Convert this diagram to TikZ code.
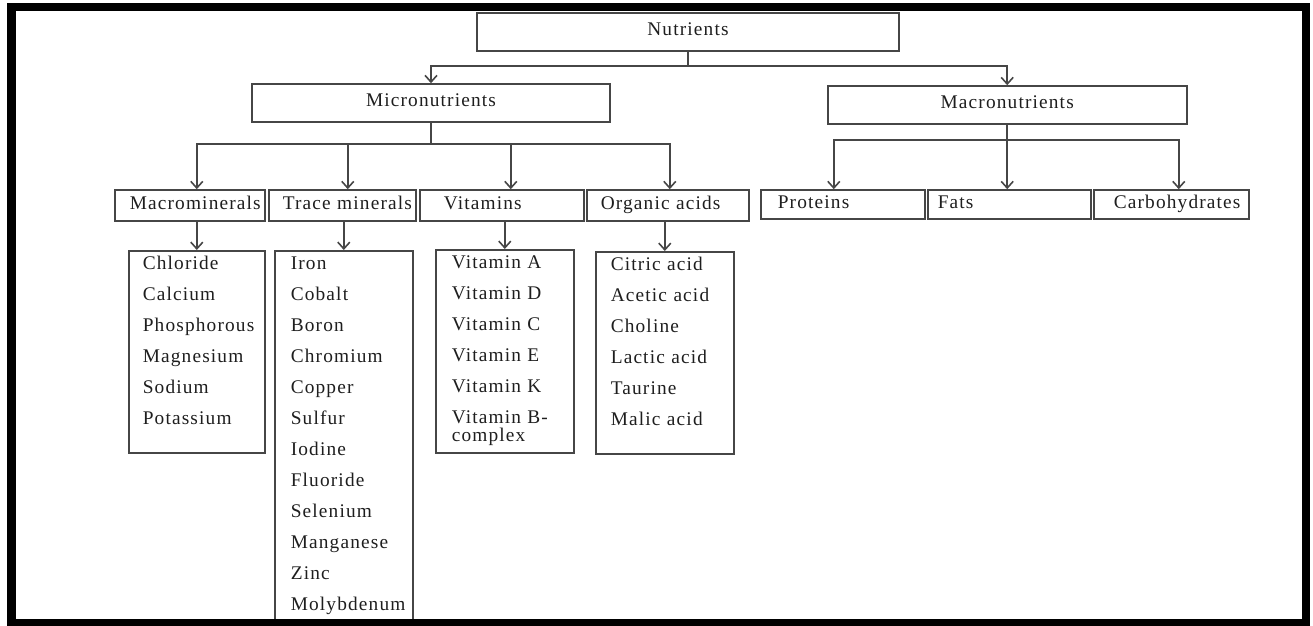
\documentclass[tikz,border=0pt]{standalone}
\usepackage{fontspec}
\setmainfont{Liberation Serif}[LetterSpace=6]
\usetikzlibrary{arrows.meta, positioning}
\definecolor{linegray}{RGB}{70, 70, 70}
\definecolor{textgray}{RGB}{30, 30, 30}
\hyphenpenalty=10000

\begin{document}
\begin{tikzpicture}[x=0.75pt, y=-0.75pt,
    box/.style={draw=linegray, line width=1.2pt, text=textgray, font=\fontsize{14.5pt}{17pt}\selectfont, text height=9pt, text depth=3.75pt, inner sep=0pt},
    headbox/.style={box, minimum height=28.5pt},
    catbox/.style 2 args={box, anchor=west, align=left, minimum height=23.25pt, inner xsep=#1, text width=#2},
    listbox/.style 2 args={box, anchor=north west, align=left, inner xsep=#1, text width=#2, text height=14.25pt, font=\fontsize{14.5pt}{23.25pt}\selectfont},
    arrow/.style={-{Straight Barb[length=5pt, width=9pt]}, draw=linegray, line width=1.2pt}
]
    \useasboundingbox (0,0) rectangle (1313,625);

    % top levels
    \node[headbox, minimum width=316.5pt] (nutr) at (688,32) {Nutrients};
    \node[headbox, minimum width=268.5pt] (micro) at (431,103) {Micronutrients};
    \node[headbox, minimum width=269.25pt] (macro) at (1007.2,105) {Macronutrients};

    % groups
    \node[catbox={11.25pt}{90pt}] (mminer) at (114,205.5) {Macrominerals};
    \node[catbox={10.5pt}{89.25pt}] (trace) at (268,205.5) {Trace~minerals};
    \node[catbox={18pt}{87pt}] (vit) at (419,205.5) {Vitamins};
    \node[catbox={10.5pt}{100.5pt}] (orgac) at (586,205.5) {Organic~acids};
    \node[catbox={12.75pt}{97.5pt}, minimum height=21.75pt] (prot) at (760,204.5) {Proteins};
    \node[catbox={7.5pt}{107.25pt}, minimum height=21.75pt] (fats) at (927,204.5) {Fats};
    \node[catbox={15pt}{86.25pt}, minimum height=21.75pt] (carb) at (1093,204.5) {Carbohydrates};

    % lists
    \node[listbox={10.5pt}{81pt}, text depth=137.25pt] (mmlist) at (128,250)
        {Chloride\\Calcium\\Phosphorous\\Magnesium\\Sodium\\Potassium};
    \node[listbox={12pt}{79.5pt}, text depth=278.25pt] (trlist) at (274,250)
        {Iron\\Cobalt\\Boron\\Chromium\\Copper\\Sulfur\\Iodine\\Fluoride\\Selenium\\Manganese\\Zinc\\Molybdenum};
    \node[listbox={12pt}{79.5pt}, text depth=138pt] (vtlist) at (435,249)
        {Vitamin~A\\Vitamin~D\\Vitamin~C\\Vitamin~E\\Vitamin~K\\Vitamin~B-\\[-9.75pt]complex};
    \node[listbox={11.25pt}{81pt}, text depth=137.25pt] (oalist) at (595,251)
        {Citric~acid\\Acetic~acid\\Choline\\Lactic~acid\\Taurine\\Malic~acid};

    % connectors
    \draw[arrow] (nutr.south) -- ++(0,14) -| (micro.north);
    \draw[arrow] (nutr.south) -- ++(0,14) -| (macro.north);

    \draw[arrow] (micro.south) -- ++(0,21) -| ([xshift=5.25pt]mminer.north);
    \draw[arrow] (micro.south) -- ++(0,21) -| ([xshift=4.1pt]trace.north);
    \draw[arrow] (micro.south) -- ++(0,21) -| ([xshift=6.75pt]vit.north);
    \draw[arrow] (micro.south) -- ++(0,21) -| ([xshift=1.5pt]orgac.north);

    \draw[arrow] (macro.south) -- ++(0,15) -| ([xshift=-6.75pt]prot.north);
    \draw[arrow] (macro.south) -- (macro.south |- fats.north);
    \draw[arrow] (macro.south) -- ++(0,15) -| ([xshift=5.6pt]carb.north);

    \draw[arrow] (mminer.south -| mmlist.north) -- (mmlist.north);
    \draw[arrow] (trace.south -| trlist.north) -- (trlist.north);
    \draw[arrow] (vit.south -| vtlist.north) -- (vtlist.north);
    \draw[arrow] (orgac.south -| oalist.north) -- (oalist.north);

    % frame
    \draw[line width=6.375pt] (11.5,7) rectangle (1306,623.5);
\end{tikzpicture}
\end{document}
